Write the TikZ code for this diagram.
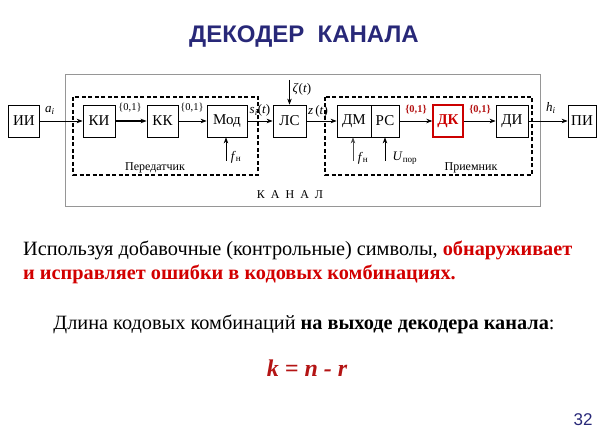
\documentclass[tikz,border=0pt]{standalone}
\usepackage{fontspec}
\setmainfont{Liberation Serif}
\newfontfamily\titlefont{Liberation Sans}
\usetikzlibrary{arrows.meta}
\definecolor{navy}{RGB}{40,40,120}
\definecolor{txtred}{RGB}{210,0,0}
\definecolor{dkred}{RGB}{180,20,20}
\definecolor{chgray}{RGB}{150,150,150}
\tikzset{
  blk/.style={draw, line width=0.8pt, inner sep=0pt, minimum height=32pt, font=\fontsize{15}{15}\selectfont},
  redblk/.style={blk, draw=red!80!black, line width=1.4pt, text=red!80!black, font=\fontsize{15}{15}\selectfont\bfseries},
  arr/.style={-{Stealth[length=6pt,width=4.5pt]}, line width=0.7pt},
  lbl/.style={font=\fontsize{13}{13}\selectfont, inner sep=0pt},
  sml/.style={font=\fontsize{10.5}{11}\selectfont, inner sep=0pt},
  captxt/.style={font=\fontsize{12}{12}\selectfont, inner sep=0pt},
  dbox/.style={draw, line width=1.1pt, dash pattern=on 4pt off 2.5pt},
  body/.style={font=\fontsize{20.3}{24}\selectfont, inner sep=0pt}
}
\begin{document}
\begin{tikzpicture}[x=1pt,y=-1pt]
\useasboundingbox (0,0) rectangle (608,438);
% title
\node[font=\titlefont\fontsize{24}{24}\selectfont\bfseries, text=navy] (title) at (304,37) {ДЕКОДЕР\ \ КАНАЛА};
% channel box
\draw[chgray, line width=1pt] (65,75) rectangle (540,207);
% dashed boxes
\draw[dbox] (73,97) rectangle (258,175);
\draw[dbox] (325,97) rectangle (532,175);
\node[captxt] (tx) at (155,168) {Передатчик};
\node[captxt] (rx) at (471,168) {Приемник};
\node[captxt] (kanal) at (290,195) {К\ \ А\ \ Н\ \ А\ \ Л};
% blocks
\node[blk, minimum width=31pt] (ii) at (24,121) {ИИ};
\node[blk, minimum width=32pt] (ki) at (99,121) {КИ};
\node[blk, minimum width=31pt] (kk) at (162.5,121) {КК};
\node[blk, minimum width=40pt] (mod) at (227,121) {Мод};
\node[blk, minimum width=33pt] (ls) at (289.5,121) {ЛС};
\node[blk, minimum width=34pt] (dm) at (354,121) {ДМ};
\node[blk, minimum width=28pt] (rs) at (385,121) {РС};
\node[redblk, minimum width=30pt] (dk) at (448,121) {ДК};
\node[blk, minimum width=32pt] (di) at (512,121) {ДИ};
\node[blk, minimum width=28pt] (pi) at (582,121) {ПИ};
% connectors
\draw[arr] (ii) -- (ki);
\draw[arr, line width=1.5pt] (ki) -- (kk);
\draw[arr] (kk) -- (mod);
\draw[arr] (mod) -- (ls);
\draw[arr] (ls) -- (dm);
\draw[arr] (rs) -- (dk);
\draw[arr] (dk) -- (di);
\draw[arr] (di) -- (pi);
\coordinate (zeta0) at (289.5,80);
\draw[arr] (zeta0) -- (ls.north);
\coordinate (fn1) at (226,161);
\draw[arr] (fn1) -- (fn1 |- mod.south);
\coordinate (fn2) at (353,161);
\draw[arr, black!70] (fn2) -- (fn2 |- dm.south);
\coordinate (upor) at (385,161);
\draw[arr] (upor) -- (upor |- rs.south);
% labels
\node[lbl] (la) at (50,110) {\textit{a}\textsubscript{\textit{i}}};
\node[sml] (l01a) at (130,108) {\{0,1\}};
\node[sml] (l01b) at (192,108) {\{0,1\}};
\node[lbl] (ls1) at (260,110) {\textit{s}\textsubscript{\textit{i}}(\textit{t})};
\node[lbl] (lzeta) at (302,89) {\textit{ζ}(\textit{t})};
\node[lbl] (lz) at (318,111) {\textit{z}\,(\textit{t})};
\node[sml, text=dkred, font=\fontsize{10.5}{11}\selectfont\bfseries] (l01c) at (416,110) {\{0,1\}};
\node[sml, text=dkred, font=\fontsize{10.5}{11}\selectfont\bfseries] (l01d) at (480,110) {\{0,1\}};
\node[lbl] (lh) at (551,108) {\textit{h}\textsubscript{\textit{i}}};
\node[lbl] (lfn1) at (236,157) {\textit{f}\textsubscript{н}};
\node[lbl] (lfn2) at (363,158) {\textit{f}\textsubscript{н}};
\node[lbl] (lup) at (405,158) {\textit{U}\textsubscript{пор}};
% body text
\node[body, anchor=base west] (t1) at (23,256) {Используя добавочные (контрольные) символы, \textcolor{txtred}{\bfseries обнаруживает}};
\node[body, anchor=base west, text=txtred] (t2) at (23,280) {\bfseries и исправляет ошибки в кодовых комбинациях.};
\node[body, anchor=base] (t3) at (304,330) {Длина кодовых комбинаций \textbf{на выходе декодера канала}:};
\node[font=\fontsize{24}{24}\selectfont\bfseries\itshape, text=dkred, inner sep=0pt] (formula) at (307,368) {k = n - r};
\node[font=\titlefont\fontsize{17}{17}\selectfont, text=navy, inner sep=0pt] (pg) at (583,420) {32};
\end{tikzpicture}
\end{document}
